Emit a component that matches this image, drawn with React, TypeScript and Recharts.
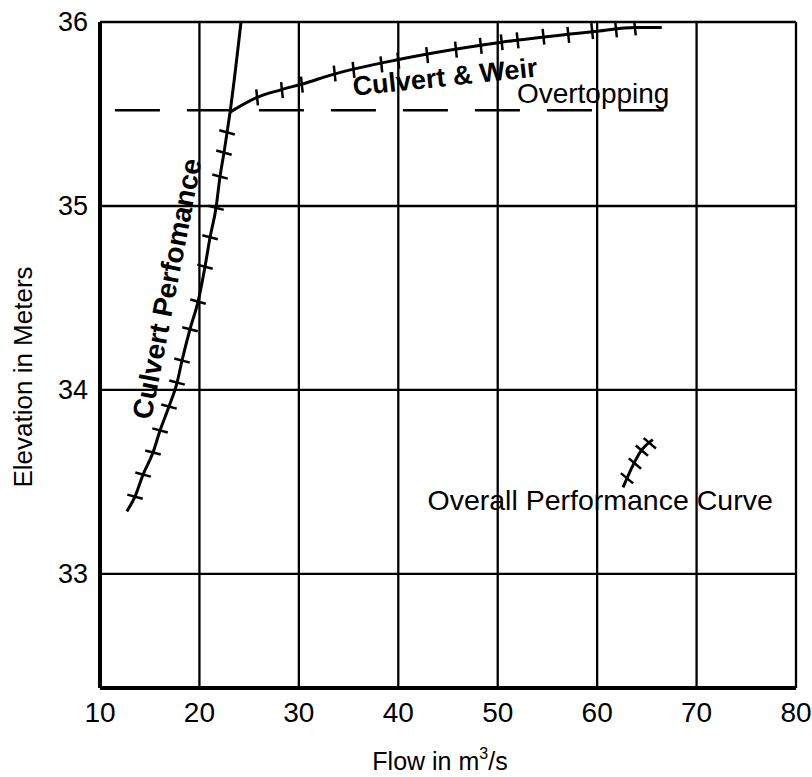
import React from 'react';
import {
  ComposedChart,
  Line,
  Scatter,
  XAxis,
  YAxis,
  CartesianGrid,
  ReferenceDot,
  Label,
} from 'recharts';

const FONT = "'Liberation Sans', Arial, Helvetica, sans-serif";

const xTicks = [10, 20, 30, 40, 50, 60, 70, 80];
const yTicks = [33, 34, 35, 36];
const xDomain = [10, 80];
const yDomain = [32.38, 36];

// Culvert performance curve (flow m3/s, elevation m)
const culvertCurve = [
  { x: 12.7, y: 33.34 },
  { x: 13.52, y: 33.42 },
  { x: 14.33, y: 33.54 },
  { x: 15.33, y: 33.66 },
  { x: 16.04, y: 33.78 },
  { x: 16.94, y: 33.91 },
  { x: 17.75, y: 34.04 },
  { x: 18.25, y: 34.16 },
  { x: 19.05, y: 34.33 },
  { x: 19.86, y: 34.48 },
  { x: 20.56, y: 34.67 },
  { x: 21.07, y: 34.83 },
  { x: 21.67, y: 34.99 },
  { x: 22.07, y: 35.16 },
  { x: 22.47, y: 35.29 },
  { x: 22.78, y: 35.4 },
  { x: 23.08, y: 35.51 },
  { x: 24.18, y: 36.0 },
];

const culvertTicks = [
  { x: 13.52, y: 33.42 },
  { x: 14.33, y: 33.54 },
  { x: 15.33, y: 33.66 },
  { x: 16.04, y: 33.78 },
  { x: 16.94, y: 33.91 },
  { x: 17.75, y: 34.04 },
  { x: 18.25, y: 34.16 },
  { x: 19.05, y: 34.33 },
  { x: 19.86, y: 34.48 },
  { x: 20.56, y: 34.67 },
  { x: 21.07, y: 34.83 },
  { x: 21.67, y: 34.99 },
  { x: 22.07, y: 35.16 },
  { x: 22.47, y: 35.29 },
  { x: 22.78, y: 35.4 },
];

// Culvert & weir curve
const weirCurve = [
  { x: 23.08, y: 35.51 },
  { x: 25.8, y: 35.59 },
  { x: 28.1, y: 35.63 },
  { x: 30.8, y: 35.67 },
  { x: 33.1, y: 35.71 },
  { x: 40.4, y: 35.8 },
  { x: 50.4, y: 35.89 },
  { x: 60.0, y: 35.95 },
  { x: 63.8, y: 35.97 },
  { x: 66.5, y: 35.97 },
];

const weirTicks = [
  { x: 25.8, y: 35.59 },
  { x: 28.3, y: 35.63 },
  { x: 30.3, y: 35.66 },
  { x: 33.6, y: 35.72 },
  { x: 35.5, y: 35.74 },
  { x: 38.3, y: 35.77 },
  { x: 40.0, y: 35.79 },
  { x: 42.9, y: 35.82 },
  { x: 45.8, y: 35.85 },
  { x: 48.3, y: 35.87 },
  { x: 50.4, y: 35.89 },
  { x: 52.0, y: 35.9 },
  { x: 54.6, y: 35.92 },
  { x: 57.1, y: 35.93 },
  { x: 59.5, y: 35.95 },
  { x: 61.9, y: 35.96 },
  { x: 63.8, y: 35.97 },
];

// Overtopping level (dashed)
const overtopping = [
  { x: 11.5, y: 35.52 },
  { x: 66.7, y: 35.52 },
];

// Overall performance curve (short segment)
const overallCurve = [
  { x: 62.6, y: 33.47 },
  { x: 63.6, y: 33.59 },
  { x: 64.3, y: 33.66 },
  { x: 65.6, y: 33.73 },
];

const overallTicks = [
  { x: 63.0, y: 33.52 },
  { x: 63.8, y: 33.6 },
  { x: 64.5, y: 33.67 },
  { x: 65.3, y: 33.71 },
];

// Text annotations anchored in data coordinates
const culvertLabel = { x: 16.74, y: 34.55, text: 'Culvert Perfomance' };
const weirLabel = { x: 44.7, y: 35.7, text: 'Culvert & Weir' };
const overtoppingLabel = { x: 59.6, y: 35.56, text: 'Overtopping' };
const overallLabel = { x: 60.3, y: 33.35, text: 'Overall Performance Curve' };

const makeTick = (angleDeg: number, half: number) => (p: any) => {
  if (p == null || p.cx == null) return <g />;
  const a = (angleDeg * Math.PI) / 180;
  const dx = half * Math.cos(a);
  const dy = half * Math.sin(a);
  return (
    <line
      x1={p.cx - dx}
      y1={p.cy - dy}
      x2={p.cx + dx}
      y2={p.cy + dy}
      stroke="#000"
      strokeWidth={2.5}
    />
  );
};

const makeText =
  (text: string, opts: { size: number; bold?: boolean; rotate?: number; anchor?: string; baseline?: string }) =>
  (p: any) => {
    if (p == null || p.cx == null) return <g />;
    const rot = opts.rotate ?? 0;
    return (
      <text
        x={p.cx}
        y={p.cy}
        textAnchor={opts.anchor ?? 'middle'}
        dominantBaseline={opts.baseline ?? 'central'}
        fontFamily={FONT}
        fontSize={opts.size}
        fontWeight={opts.bold ? 'bold' : 'normal'}
        fill="#000"
        transform={rot ? `rotate(${rot}, ${p.cx}, ${p.cy})` : undefined}
      >
        {text}
      </text>
    );
  };

const XTick = (props: any) => {
  const { x, y, payload } = props;
  return (
    <text
      x={x}
      y={y + 20}
      textAnchor="middle"
      dominantBaseline="central"
      fontFamily={FONT}
      fontSize={28}
      fill="#000"
    >
      {payload.value}
    </text>
  );
};

const YTick = (props: any) => {
  const { x, y, payload } = props;
  return (
    <text
      x={x}
      y={y}
      textAnchor="end"
      dominantBaseline="central"
      fontFamily={FONT}
      fontSize={27}
      fill="#000"
    >
      {payload.value}
    </text>
  );
};

const YTitle = (props: any) => {
  const vb = props.viewBox || { x: 0, y: 22, width: 100, height: 666 };
  const cx = vb.x + 23;
  const cy = vb.y + vb.height / 2 + 22;
  return (
    <text
      x={cx}
      y={cy}
      textAnchor="middle"
      dominantBaseline="central"
      fontFamily={FONT}
      fontSize={26}
      fill="#000"
      transform={`rotate(-90, ${cx}, ${cy})`}
    >
      Elevation in Meters
    </text>
  );
};

const XTitle = (props: any) => {
  const vb = props.viewBox || { x: 100, y: 688, width: 696, height: 89 };
  const cx = vb.x + vb.width / 2 - 8;
  const by = vb.y + 82;
  return (
    <text x={cx} y={by} textAnchor="middle" fontFamily={FONT} fontSize={25} fill="#000">
      Flow in m
      <tspan fontSize={16} dy={-11}>
        3
      </tspan>
      <tspan dy={11}>/s</tspan>
    </text>
  );
};

export default function App() {
  return (
    <div style={{ position: 'absolute', left: 0, top: 0, background: '#fff' }}>
      <ComposedChart
        width={812}
        height={777}
        margin={{ top: 22, right: 16, bottom: 0, left: 0 }}
      >
        <CartesianGrid stroke="#000" strokeWidth={2.3} />
        <XAxis
          type="number"
          dataKey="x"
          domain={xDomain}
          ticks={xTicks}
          interval={0}
          allowDataOverflow
          height={89}
          axisLine={{ stroke: '#000', strokeWidth: 4 }}
          tickLine={false}
          tickSize={0}
          tickMargin={4}
          tick={<XTick />}
        >
          <Label content={<XTitle />} />
        </XAxis>
        <YAxis
          type="number"
          dataKey="y"
          domain={yDomain}
          ticks={yTicks}
          interval={0}
          allowDataOverflow
          width={100}
          axisLine={{ stroke: '#000', strokeWidth: 4 }}
          tickLine={false}
          tickSize={0}
          tickMargin={12}
          tick={<YTick />}
        >
          <Label content={<YTitle />} />
        </YAxis>

        <Line
          data={overtopping}
          dataKey="y"
          type="linear"
          stroke="#000"
          strokeWidth={2.6}
          strokeDasharray="45 27"
          dot={false}
          activeDot={false}
          isAnimationActive={false}
        />
        <Line
          data={culvertCurve}
          dataKey="y"
          type="monotone"
          stroke="#000"
          strokeWidth={3}
          dot={false}
          activeDot={false}
          isAnimationActive={false}
        />
        <Line
          data={weirCurve}
          dataKey="y"
          type="monotone"
          stroke="#000"
          strokeWidth={3}
          dot={false}
          activeDot={false}
          isAnimationActive={false}
        />
        <Line
          data={overallCurve}
          dataKey="y"
          type="monotone"
          stroke="#000"
          strokeWidth={3}
          dot={false}
          activeDot={false}
          isAnimationActive={false}
        />
        <Scatter data={culvertTicks} dataKey="y" shape={makeTick(15, 8)} isAnimationActive={false} />
        <Scatter data={weirTicks} dataKey="y" shape={makeTick(84, 8)} isAnimationActive={false} />
        <Scatter data={overallTicks} dataKey="y" shape={makeTick(40, 8)} isAnimationActive={false} />

        <ReferenceDot
          x={culvertLabel.x}
          y={culvertLabel.y}
          r={0}
          ifOverflow="visible"
          shape={makeText(culvertLabel.text, { size: 28, bold: true, rotate: -79 })}
        />
        <ReferenceDot
          x={weirLabel.x}
          y={weirLabel.y}
          r={0}
          ifOverflow="visible"
          shape={makeText(weirLabel.text, { size: 27, bold: true, rotate: -6 })}
        />
        <ReferenceDot
          x={overtoppingLabel.x}
          y={overtoppingLabel.y}
          r={0}
          ifOverflow="visible"
          shape={makeText(overtoppingLabel.text, { size: 28, baseline: 'alphabetic' })}
        />
        <ReferenceDot
          x={overallLabel.x}
          y={overallLabel.y}
          r={0}
          ifOverflow="visible"
          shape={makeText(overallLabel.text, { size: 28.5, baseline: 'alphabetic' })}
        />
      </ComposedChart>
    </div>
  );
}
